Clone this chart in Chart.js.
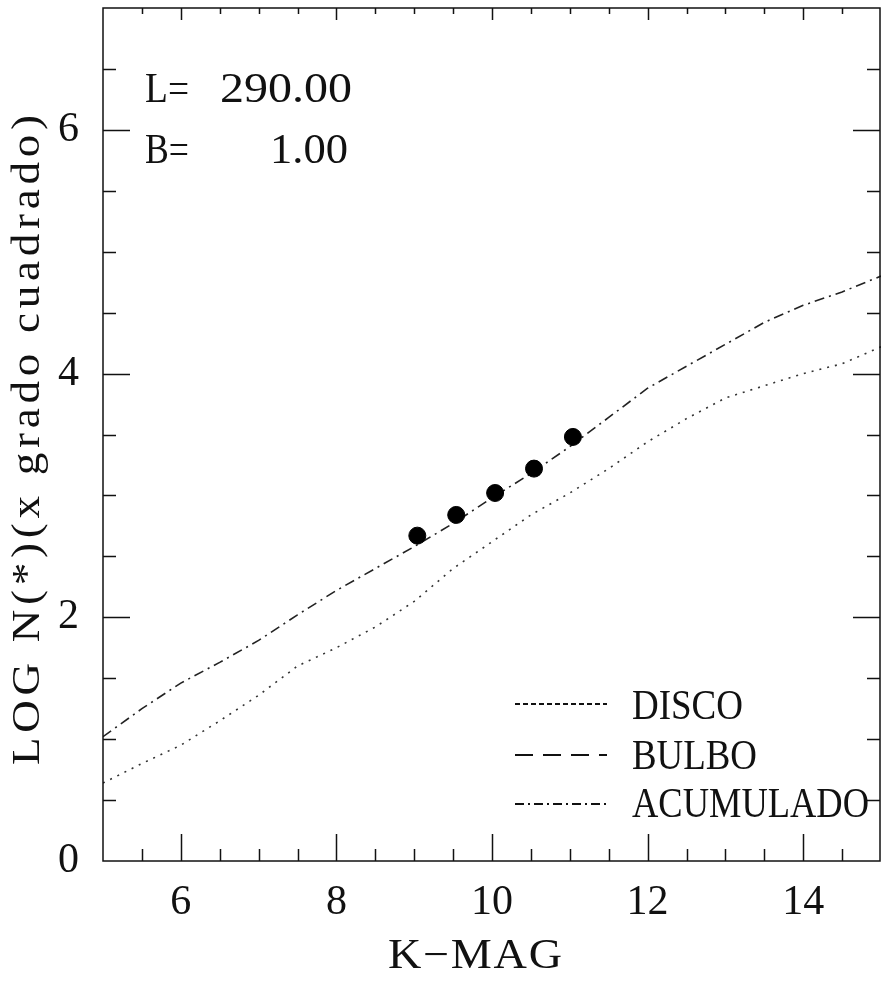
<!DOCTYPE html>
<html>
<head>
<meta charset="utf-8">
<script src="https://cdn.jsdelivr.net/npm/chart.js@4.4.1/dist/chart.umd.min.js"></script>
<style>
  html, body { margin: 0; padding: 0; background: #fff; }
  #wrap { width: 881px; height: 981px; }
</style>
</head>
<body>
<div id="wrap"><canvas id="c" width="881" height="981"></canvas></div>
<script>
// ---- data ----
const kMag        = [5, 5.5, 6, 6.5, 7, 7.5, 8, 8.5, 9, 9.5, 10, 10.5, 11, 11.5, 12, 12.5, 13, 13.5, 14, 14.5, 15];
const disco       = [0.64, 0.80, 0.95, 1.15, 1.36, 1.60, 1.75, 1.92, 2.13, 2.40, 2.62, 2.84, 3.02, 3.22, 3.44, 3.63, 3.80, 3.90, 4.00, 4.08, 4.22];
const bulbo       = []; // not visible in the plotted range
const acumulado   = [1.02, 1.25, 1.46, 1.63, 1.81, 2.02, 2.22, 2.40, 2.58, 2.77, 2.98, 3.18, 3.40, 3.64, 3.88, 4.06, 4.24, 4.42, 4.56, 4.67, 4.80];
const obsMag      = [9.04, 9.54, 10.04, 10.54, 11.04];
const obsLogN     = [2.67, 2.84, 3.02, 3.22, 3.48];
const xTickLabels = [6, 8, 10, 12, 14];
const yTickLabels = [0, 2, 4, 6];
const seriesNames = ['DISCO', 'BULBO', 'ACUMULADO'];
const annotLines  = [['L=', '290.00'], ['B=', '1.00']];
const xTitle = 'K\u2212MAG';
const yTitle = 'LOG N(*)(x grado cuadrado)';

const SERIF = '"Liberation Serif", "DejaVu Serif", serif';
const INK = '#111';

function pts(xs, ys) { return ys.map((v, i) => ({ x: xs[i], y: v })); }

// draw text fitted to a width: mild horizontal scale, then letter spacing
function fitText(ctx, text, x, y, width, size, align, maxScale) {
  ctx.save();
  ctx.font = size + 'px ' + SERIF;
  ctx.textBaseline = 'alphabetic';
  ctx.textAlign = 'left';
  ctx.letterSpacing = '0px';
  const w = ctx.measureText(text).width;
  let sx = width / w;
  const ms = maxScale || 1.1;
  let sp = 0;
  if (sx > ms) {
    sx = ms;
    sp = (width - w * sx) / Math.max(text.length - 1, 1) / sx;
  }
  let x0 = x;
  if (align === 'right') x0 = x - width;
  if (align === 'center') x0 = x - width / 2;
  ctx.translate(x0, y);
  ctx.scale(sx, 1);
  if (sp > 0) {
    let cx = 0;
    for (const ch of text) {
      ctx.fillText(ch, cx, 0);
      cx += ctx.measureText(ch).width + sp;
    }
  } else {
    ctx.fillText(text, 0, 0);
  }
  ctx.restore();
}

const decor = {
  id: 'decor',
  afterDatasetsDraw(chart) {
    const { ctx, chartArea: a, scales: { x, y } } = chart;
    ctx.save();
    ctx.strokeStyle = INK;
    ctx.fillStyle = INK;
    ctx.lineWidth = 1.5;
    ctx.setLineDash([]);
    ctx.strokeRect(a.left, a.top, a.right - a.left - 1, a.bottom - a.top);
    ctx.beginPath();
    // x ticks (inward), minor every 0.5, major at labelled values
    for (let v = x.min + 0.5; v < x.max; v += 0.5) {
      const px = Math.round(x.getPixelForValue(v)) + 0.5;
      const major = xTickLabels.includes(v);
      ctx.moveTo(px, a.bottom); ctx.lineTo(px, a.bottom - (major ? 27 : 12));
      ctx.moveTo(px, a.top);    ctx.lineTo(px, a.top + (major ? 12 : 6));
    }
    for (let v = y.min + 0.5; v < y.max; v += 0.5) {
      const py = Math.round(y.getPixelForValue(v)) + 0.5;
      const major = yTickLabels.includes(v);
      ctx.moveTo(a.left, py);  ctx.lineTo(a.left + (major ? 27 : 13), py);
      ctx.moveTo(a.right - 1, py); ctx.lineTo(a.right - 1 - (major ? 27 : 13), py);
    }
    ctx.stroke();

    // annotation L= / B=
    fitText(ctx, annotLines[0][0], 145, 102, 44, 42, 'left');
    fitText(ctx, annotLines[0][1], 352, 102, 132, 42, 'right', 1.15);
    fitText(ctx, annotLines[1][0], 145, 163, 44, 42, 'left');
    fitText(ctx, annotLines[1][1], 348, 163, 78, 42, 'right', 1.15);

    // legend
    const legDash = [[5, 3], [18, 10], [9, 4, 2, 4]];
    const legY = [704, 755, 804];
    const legBase = [719, 769, 817];
    const legW = [111, 125, 237];
    ctx.lineWidth = 1.8;
    for (let i = 0; i < 3; i++) {
      ctx.beginPath();
      ctx.setLineDash(legDash[i]);
      ctx.moveTo(515, legY[i]); ctx.lineTo(607, legY[i]);
      ctx.stroke();
      fitText(ctx, seriesNames[i], 632, legBase[i], legW[i], 43, 'left');
    }
    ctx.setLineDash([]);

    // axis titles
    fitText(ctx, xTitle, 475, 968, 174, 42, 'center');
    ctx.save();
    ctx.translate(39, 440);
    ctx.rotate(-Math.PI / 2);
    fitText(ctx, yTitle, 0, 0, 650, 41, 'center');
    ctx.restore();
    ctx.restore();
  }
};

function noPad(s) { s.paddingTop = 0; s.paddingBottom = 0; s.paddingLeft = 0; s.paddingRight = 0; }

new Chart(document.getElementById('c'), {
  type: 'scatter',
  data: {
    datasets: [
      { label: 'obs', data: pts(obsMag, obsLogN), showLine: false, pointRadius: 8.5,
        pointBackgroundColor: '#000', pointBorderColor: '#000', order: 0 },
      { label: seriesNames[2], data: pts(kMag, acumulado), showLine: true, pointRadius: 0,
        borderColor: '#222', borderWidth: 1.6, borderDash: [10, 5, 2, 5], tension: 0, order: 1 },
      { label: seriesNames[1], data: pts(kMag, bulbo), showLine: true, pointRadius: 0,
        borderColor: '#222', borderWidth: 1.6, borderDash: [18, 10], order: 2 },
      { label: seriesNames[0], data: pts(kMag, disco), showLine: true, pointRadius: 0,
        borderColor: '#333', borderWidth: 1.6, borderDash: [2, 6], tension: 0, order: 3 }
    ]
  },
  options: {
    responsive: false,
    animation: false,
    events: [],
    layout: { autoPadding: false, padding: { top: 8, right: 0, left: 0, bottom: 0 } },
    plugins: { legend: { display: false }, tooltip: { enabled: false } },
    scales: {
      x: {
        type: 'linear', min: 5, max: 15,
        afterBuildTicks: s => { s.ticks = xTickLabels.map(v => ({ value: v })); },
        afterFit: s => { s.height = 120; noPad(s); },
        grid: { display: false, drawTicks: false },
        border: { display: false },
        ticks: { color: INK, font: { family: SERIF, size: 42 }, padding: 17, maxRotation: 0, autoSkip: false }
      },
      y: {
        type: 'linear', min: 0, max: 7,
        afterBuildTicks: s => { s.ticks = yTickLabels.map(v => ({ value: v })); },
        afterFit: s => { s.width = 103; noPad(s); },
        grid: { display: false, drawTicks: false },
        border: { display: false },
        ticks: { color: INK, font: { family: SERIF, size: 42 }, padding: 24, autoSkip: false }
      }
    }
  },
  plugins: [decor]
});
</script>
</body>
</html>
